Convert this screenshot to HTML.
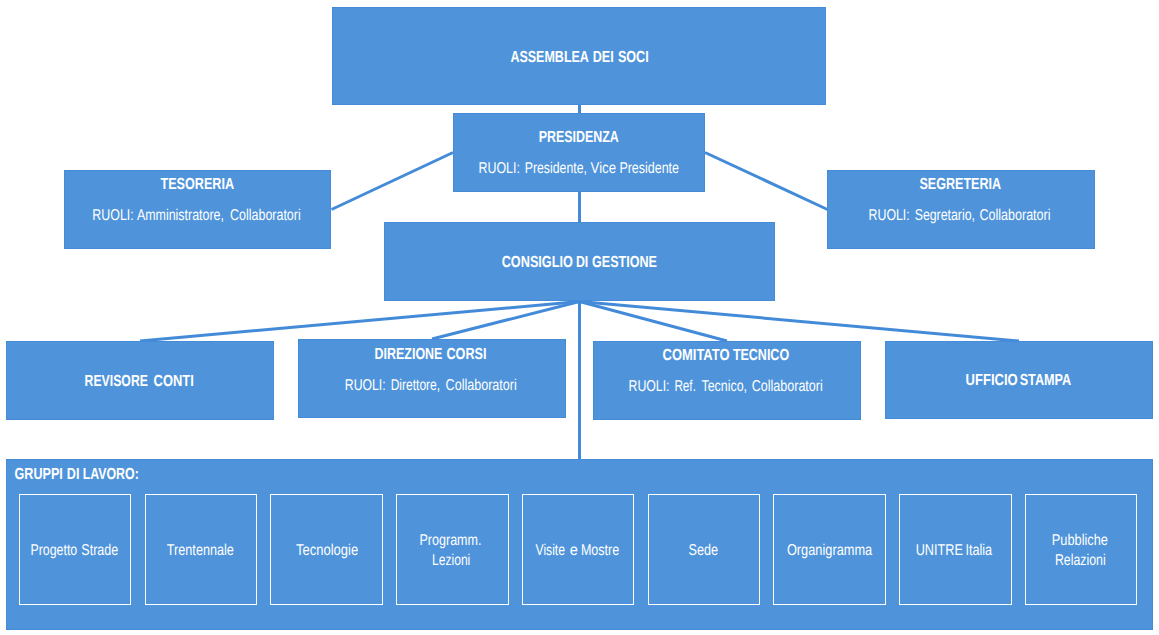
<!DOCTYPE html>
<html><head><meta charset="utf-8"><title>Organigramma</title>
<style>
html,body{margin:0;padding:0;background:#fff;}
svg{display:block;}
text{font-family:"Liberation Sans",sans-serif;font-size:15.7px;fill:#fff;white-space:pre;text-rendering:geometricPrecision;}
.b{font-weight:bold;font-size:16px;}
</style></head>
<body>
<svg width="1159" height="635" viewBox="0 0 1159 635">
<rect x="0" y="0" width="1159" height="635" fill="#fff"/>
<g stroke="#438BD9" stroke-width="3" fill="none">
<line x1="579.5" y1="105" x2="579.5" y2="113"/>
<line x1="579.5" y1="192" x2="579.5" y2="222"/>
<line x1="579.5" y1="301" x2="579.5" y2="459"/>
<line x1="331.5" y1="209.5" x2="453" y2="152.5"/>
<line x1="705" y1="152.5" x2="827.5" y2="209.5"/>
<line x1="579.5" y1="301.5" x2="140" y2="341"/>
<line x1="579.5" y1="301.5" x2="432" y2="339"/>
<line x1="579.5" y1="301.5" x2="727" y2="341"/>
<line x1="579.5" y1="301.5" x2="1019" y2="341"/>
</g>
<g fill="#4F94DA" stroke="#448CD8" stroke-width="1">
<rect x="332.5" y="7.5" width="493" height="97"/>
<rect x="453.5" y="113.5" width="251" height="78"/>
<rect x="64.5" y="170.5" width="266" height="78"/>
<rect x="827.5" y="170.5" width="267" height="78"/>
<rect x="384.5" y="222.5" width="390" height="78"/>
<rect x="6.5" y="341.5" width="267" height="78"/>
<rect x="298.5" y="339.5" width="267" height="78"/>
<rect x="593.5" y="341.5" width="267" height="78"/>
<rect x="885.5" y="341.5" width="267" height="77"/>
<rect x="6.5" y="459.5" width="1146" height="170"/>
</g>
<g fill="none" stroke="#fff" stroke-width="1">
<rect x="19.5" y="494.5" width="111" height="110"/>
<rect x="145.5" y="494.5" width="111" height="110"/>
<rect x="270.5" y="494.5" width="112" height="110"/>
<rect x="396.5" y="494.5" width="112" height="110"/>
<rect x="522.5" y="494.5" width="111" height="110"/>
<rect x="648.5" y="494.5" width="111" height="110"/>
<rect x="773.5" y="494.5" width="112" height="110"/>
<rect x="899.5" y="494.5" width="112" height="110"/>
<rect x="1025.5" y="494.5" width="111" height="110"/>
</g>
<g>
<text class="b" x="510.40" y="62.0" textLength="78.50" lengthAdjust="spacingAndGlyphs">ASSEMBLEA</text>
<text class="b" x="592.70" y="62.0" textLength="21.00" lengthAdjust="spacingAndGlyphs">DEI</text>
<text class="b" x="617.90" y="62.0" textLength="30.80" lengthAdjust="spacingAndGlyphs">SOCI</text>
<text class="b" x="538.80" y="142.0" textLength="80.00" lengthAdjust="spacingAndGlyphs">PRESIDENZA</text>
<text x="478.60" y="173.0" textLength="41.30" lengthAdjust="spacingAndGlyphs">RUOLI:</text>
<text x="524.70" y="173.0" textLength="62.20" lengthAdjust="spacingAndGlyphs">Presidente,</text>
<text x="590.60" y="173.0" textLength="25.40" lengthAdjust="spacingAndGlyphs">Vice</text>
<text x="619.40" y="173.0" textLength="59.60" lengthAdjust="spacingAndGlyphs">Presidente</text>
<text class="b" x="160.50" y="189.3" textLength="73.60" lengthAdjust="spacingAndGlyphs">TESORERIA</text>
<text x="92.30" y="220.3" textLength="41.40" lengthAdjust="spacingAndGlyphs">RUOLI:</text>
<text x="136.90" y="220.3" textLength="87.10" lengthAdjust="spacingAndGlyphs">Amministratore,</text>
<text x="230.10" y="220.3" textLength="70.60" lengthAdjust="spacingAndGlyphs">Collaboratori</text>
<text class="b" x="919.50" y="189.3" textLength="81.50" lengthAdjust="spacingAndGlyphs">SEGRETERIA</text>
<text x="868.60" y="220.3" textLength="41.10" lengthAdjust="spacingAndGlyphs">RUOLI:</text>
<text x="914.70" y="220.3" textLength="60.30" lengthAdjust="spacingAndGlyphs">Segretario,</text>
<text x="979.50" y="220.3" textLength="71.00" lengthAdjust="spacingAndGlyphs">Collaboratori</text>
<text class="b" x="501.70" y="267.0" textLength="71.20" lengthAdjust="spacingAndGlyphs">CONSIGLIO</text>
<text class="b" x="575.90" y="267.0" textLength="12.40" lengthAdjust="spacingAndGlyphs">DI</text>
<text class="b" x="592.10" y="267.0" textLength="64.90" lengthAdjust="spacingAndGlyphs">GESTIONE</text>
<text class="b" x="84.60" y="386.0" textLength="63.30" lengthAdjust="spacingAndGlyphs">REVISORE</text>
<text class="b" x="153.60" y="386.0" textLength="40.20" lengthAdjust="spacingAndGlyphs">CONTI</text>
<text class="b" x="374.60" y="359.3" textLength="67.80" lengthAdjust="spacingAndGlyphs">DIREZIONE</text>
<text class="b" x="446.50" y="359.3" textLength="40.00" lengthAdjust="spacingAndGlyphs">CORSI</text>
<text x="344.80" y="390.3" textLength="40.90" lengthAdjust="spacingAndGlyphs">RUOLI:</text>
<text x="390.70" y="390.3" textLength="49.40" lengthAdjust="spacingAndGlyphs">Direttore,</text>
<text x="445.60" y="390.3" textLength="71.20" lengthAdjust="spacingAndGlyphs">Collaboratori</text>
<text class="b" x="662.60" y="360.0" textLength="66.90" lengthAdjust="spacingAndGlyphs">COMITATO</text>
<text class="b" x="732.90" y="360.0" textLength="56.20" lengthAdjust="spacingAndGlyphs">TECNICO</text>
<text x="628.50" y="391.0" textLength="41.00" lengthAdjust="spacingAndGlyphs">RUOLI:</text>
<text x="674.40" y="391.0" textLength="21.50" lengthAdjust="spacingAndGlyphs">Ref.</text>
<text x="701.50" y="391.0" textLength="45.50" lengthAdjust="spacingAndGlyphs">Tecnico,</text>
<text x="751.70" y="391.0" textLength="71.10" lengthAdjust="spacingAndGlyphs">Collaboratori</text>
<text class="b" x="965.60" y="385.0" textLength="52.10" lengthAdjust="spacingAndGlyphs">UFFICIO</text>
<text class="b" x="1019.70" y="385.0" textLength="51.50" lengthAdjust="spacingAndGlyphs">STAMPA</text>
<text class="b" x="14.50" y="479.0" textLength="48.30" lengthAdjust="spacingAndGlyphs">GRUPPI</text>
<text class="b" x="66.80" y="479.0" textLength="12.60" lengthAdjust="spacingAndGlyphs">DI</text>
<text class="b" x="82.70" y="479.0" textLength="56.10" lengthAdjust="spacingAndGlyphs">LAVORO:</text>
<text x="30.50" y="555.0" textLength="46.70" lengthAdjust="spacingAndGlyphs">Progetto</text>
<text x="81.30" y="555.0" textLength="36.90" lengthAdjust="spacingAndGlyphs">Strade</text>
<text x="166.80" y="555.0" textLength="67.10" lengthAdjust="spacingAndGlyphs">Trentennale</text>
<text x="296.00" y="555.0" textLength="62.20" lengthAdjust="spacingAndGlyphs">Tecnologie</text>
<text x="419.50" y="545.0" textLength="62.00" lengthAdjust="spacingAndGlyphs">Programm.</text>
<text x="432.00" y="565.0" textLength="38.30" lengthAdjust="spacingAndGlyphs">Lezioni</text>
<text x="535.50" y="555.0" textLength="29.50" lengthAdjust="spacingAndGlyphs">Visite</text>
<text x="569.70" y="555.0" textLength="8.10" lengthAdjust="spacingAndGlyphs">e</text>
<text x="580.90" y="555.0" textLength="38.30" lengthAdjust="spacingAndGlyphs">Mostre</text>
<text x="688.50" y="555.0" textLength="29.50" lengthAdjust="spacingAndGlyphs">Sede</text>
<text x="786.90" y="555.0" textLength="85.30" lengthAdjust="spacingAndGlyphs">Organigramma</text>
<text x="915.70" y="555.0" textLength="47.30" lengthAdjust="spacingAndGlyphs">UNITRE</text>
<text x="965.40" y="555.0" textLength="26.60" lengthAdjust="spacingAndGlyphs">Italia</text>
<text x="1051.80" y="545.0" textLength="56.10" lengthAdjust="spacingAndGlyphs">Pubbliche</text>
<text x="1054.90" y="565.0" textLength="50.80" lengthAdjust="spacingAndGlyphs">Relazioni</text>
</g>
</svg>
</body></html>
